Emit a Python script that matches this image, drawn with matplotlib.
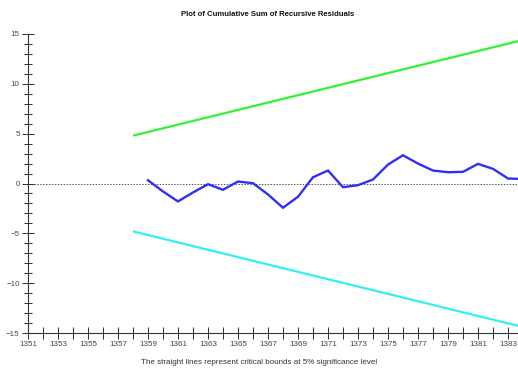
import matplotlib
matplotlib.use("Agg")
import matplotlib.pyplot as plt
from matplotlib.ticker import MultipleLocator

plt.rcParams['font.family'] = ['Liberation Sans', 'DejaVu Sans']

years = list(range(1359, 1385))
cusum = [0.33, -0.8, -1.8, -0.9, -0.07, -0.63, 0.2, 0.03, -1.1, -2.43,
         -1.33, 0.63, 1.3, -0.37, -0.17, 0.4, 1.9, 2.83, 2.0, 1.3,
         1.13, 1.17, 1.97, 1.47, 0.5, 0.45]
bound_years = [1358, 1384]
upper = [4.8, 14.4]
lower = [-4.8, -14.4]
xtick_labels = list(range(1351, 1385, 2))

fig = plt.figure(figsize=(5.18, 3.72), dpi=100)
ax = fig.add_axes([28/518, 39/372, 490/518, 299/372])

ax.axhline(0, color='#555555', lw=0.7, ls=(0, (1.5, 1.5)), zorder=1)
ax.plot(bound_years, upper, color='#33f033', lw=1.6, solid_capstyle='butt')
ax.plot(bound_years, lower, color='#33f0f0', lw=1.6, solid_capstyle='butt')
ax.plot(years, cusum, color='#2f2ff5', lw=1.7, solid_joinstyle='miter')

ax.set_xlim(1351, 1351 + 490/15)
ax.set_ylim(-15, 15)
for s in ['top', 'right']:
    ax.spines[s].set_visible(False)
for s in ['left', 'bottom']:
    ax.spines[s].set_color('#333333')
    ax.spines[s].set_linewidth(0.8)

ax.set_xticks(xtick_labels)
ax.set_xticklabels([str(v) for v in xtick_labels])
ax.xaxis.set_minor_locator(MultipleLocator(1))
ax.yaxis.set_major_locator(MultipleLocator(5))
ax.yaxis.set_minor_locator(MultipleLocator(1))
ax.tick_params(axis='x', which='both', direction='inout', length=8, width=0.75,
               color='#333333', labelsize=5.8, labelcolor='#444444', pad=2)
ax.tick_params(axis='y', which='major', direction='inout', length=8, width=0.75,
               color='#333333', labelsize=5.8, labelcolor='#444444', pad=2)
ax.tick_params(axis='y', which='minor', direction='inout', length=6, width=0.75,
               color='#333333')

fig.text(268/518, 1 - 15/372, 'Plot of Cumulative Sum of Recursive Residuals',
         ha='center', va='center', fontsize=5.6, fontweight='bold', color='#111111')
fig.text(259/518, 1 - 362/372, 'The straight lines represent critical bounds at 5% significance level',
         ha='center', va='center', fontsize=5.8, color='#333333')

fig.savefig('out.png', dpi=100)
